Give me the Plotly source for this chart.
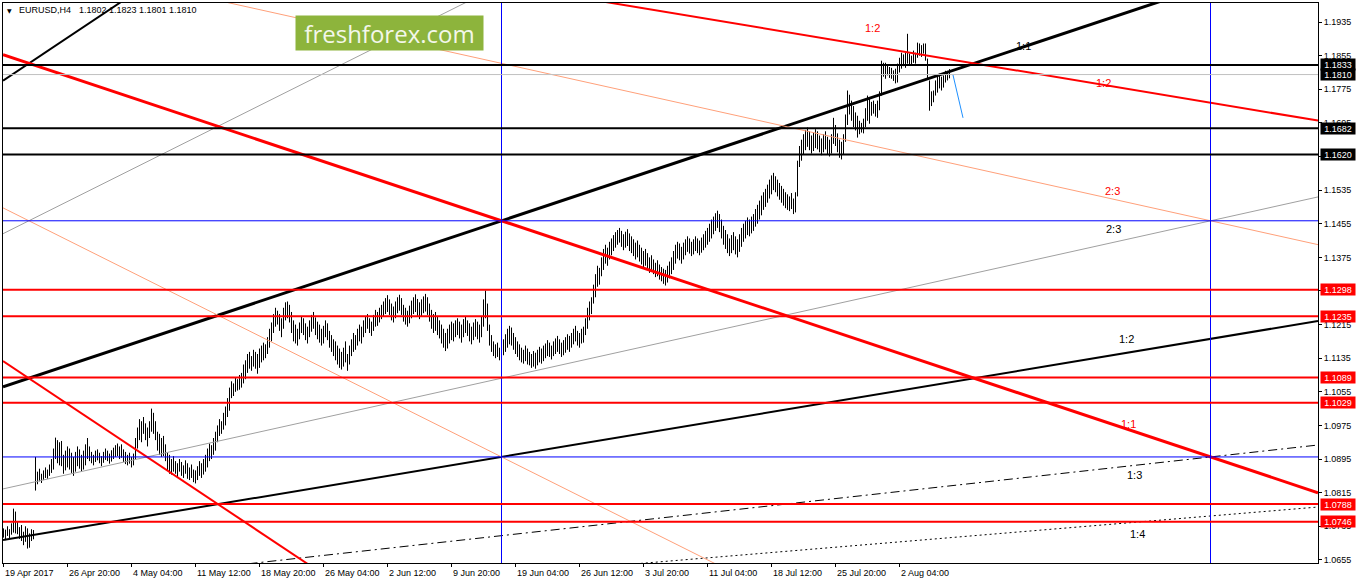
import plotly.graph_objects as go

# ------------------------------------------------------------------
# DATA
# ------------------------------------------------------------------
SYMBOL = "EURUSD,H4"
LAST_OHLC = ["1.1802", "1.1823", "1.1801", "1.1810"]

# H4 bar highs / lows, in pips above 1.0000 (e.g. 730 -> 1.0730), bar 0 = 19 Apr 2017 00:00
HIGH_PIPS = [
    730, 727, 735, 728, 742, 777, 770, 745, 733, 738,
    722, 735, 730, 718, 728, 726, 900, 865, 872, 860,
    868, 875, 870, 882, 895, 920, 946, 940, 935, 938,
    905, 915, 925, 920, 910, 900, 912, 925, 918, 905,
    915, 930, 945, 925, 912, 905, 915, 918, 910, 902,
    912, 920, 915, 908, 916, 922, 928, 932, 925, 930,
    918, 912, 905, 910, 900, 908, 945, 970, 990, 985,
    995, 980, 970, 985, 1015, 1005, 985, 960, 955, 945,
    950, 930, 910, 905, 895, 902, 890, 885, 895, 888,
    880, 892, 885, 875, 882, 870, 868, 878, 890, 885,
    895, 905, 920, 932, 928, 945, 960, 975, 990, 985,
    1005, 1020, 1040, 1065, 1080, 1075, 1090, 1085, 1095, 1100,
    1120, 1130, 1145, 1150, 1140, 1155, 1150, 1145, 1158, 1165,
    1172, 1168, 1185, 1205, 1220, 1240, 1255, 1248, 1240, 1230,
    1255, 1268, 1270, 1262, 1245, 1225, 1215, 1205, 1220, 1235,
    1230, 1218, 1210, 1225, 1238, 1245, 1232, 1222, 1215, 1205,
    1212, 1225, 1218, 1200, 1190, 1180, 1175, 1165, 1158, 1150,
    1160, 1175, 1145, 1165, 1180, 1195, 1190, 1205, 1215, 1210,
    1225, 1235, 1240, 1230, 1222, 1238, 1250, 1245, 1255, 1262,
    1270, 1278, 1285, 1275, 1265, 1258, 1270, 1280, 1286, 1278,
    1262, 1255, 1248, 1260, 1272, 1280, 1287, 1276, 1268, 1275,
    1282, 1288, 1280, 1265, 1250, 1240, 1245, 1235, 1225, 1215,
    1205, 1195, 1205, 1215, 1222, 1218, 1225, 1230, 1222, 1215,
    1228, 1235, 1225, 1218, 1210, 1220, 1228, 1222, 1215, 1235,
    1275, 1296, 1265, 1215, 1190, 1175, 1168, 1172, 1160, 1170,
    1180, 1192, 1205, 1212, 1208, 1195, 1185, 1175, 1168, 1160,
    1155, 1165, 1158, 1150, 1145, 1152, 1148, 1155, 1162, 1158,
    1165, 1170, 1178, 1172, 1165, 1175, 1182, 1188, 1180, 1172,
    1178, 1185, 1192, 1188, 1195, 1205, 1212, 1200, 1195, 1205,
    1210, 1230, 1255, 1270, 1280, 1310, 1335, 1355, 1350, 1375,
    1395, 1405, 1398, 1412, 1420, 1428, 1435, 1440, 1445, 1438,
    1430, 1436, 1442, 1432, 1425, 1418, 1410, 1415, 1405, 1398,
    1390, 1395, 1385, 1375, 1380, 1370, 1362, 1368, 1358, 1352,
    1348, 1345, 1355, 1365, 1375, 1390, 1405, 1412, 1408, 1400,
    1410, 1418, 1425, 1420, 1412, 1418, 1425, 1420, 1415, 1422,
    1430, 1438, 1445, 1455, 1465, 1472, 1480, 1486, 1478, 1465,
    1450, 1440, 1430, 1420, 1428, 1435, 1425, 1418, 1430, 1445,
    1455, 1462, 1470, 1465, 1472, 1478, 1490, 1500, 1510, 1522,
    1530, 1538, 1548, 1560, 1570, 1576, 1568, 1560, 1552, 1545,
    1538, 1530, 1525, 1520, 1528, 1515, 1530, 1605, 1640, 1655,
    1668, 1678, 1684, 1675, 1665, 1672, 1680, 1675, 1665, 1658,
    1668, 1675, 1662, 1655, 1668, 1707, 1690, 1670, 1655, 1650,
    1668, 1715, 1772, 1762, 1748, 1735, 1720, 1712, 1700, 1695,
    1705, 1730, 1760, 1752, 1745, 1748, 1740, 1748, 1770, 1843,
    1838, 1838, 1831, 1828, 1826, 1820, 1824, 1836, 1850, 1862,
    1858, 1862, 1907, 1860, 1855, 1867, 1862, 1886, 1884, 1880,
    1884, 1884, 1848, 1796, 1770, 1772, 1796, 1808, 1812, 1805,
    1808, 1819, 1819, 1823,
]
LOW_PIPS = [
    708, 702, 712, 705, 715, 720, 718, 716, 705, 700,
    690, 698, 682, 684, 700, 704, 820, 835, 842, 838,
    845, 850, 848, 855, 862, 870, 895, 885, 880, 878,
    860, 868, 875, 870, 862, 855, 865, 878, 872, 865,
    870, 880, 895, 890, 885, 880, 888, 892, 885, 878,
    886, 893, 890, 884, 889, 895, 900, 902, 895, 898,
    888, 883, 880, 884, 875, 880, 895, 920, 940, 935,
    955, 940, 925, 945, 960, 955, 940, 915, 905, 900,
    902, 890, 868, 860, 858, 865, 860, 852, 865, 855,
    850, 860, 848, 845, 850, 840, 837, 845, 855, 850,
    858, 865, 875, 890, 895, 905, 915, 935, 950, 955,
    965, 975, 995, 1010, 1040, 1045, 1055, 1058, 1060, 1065,
    1075, 1085, 1100, 1110, 1105, 1115, 1110, 1098, 1112, 1125,
    1130, 1135, 1145, 1160, 1175, 1195, 1210, 1215, 1200, 1185,
    1205, 1225, 1230, 1220, 1195, 1175, 1170, 1165, 1180, 1195,
    1190, 1178, 1170, 1185, 1198, 1205, 1190, 1180, 1172, 1165,
    1170, 1185, 1178, 1160, 1150, 1140, 1130, 1120, 1112, 1108,
    1115, 1125, 1105, 1120, 1140, 1150, 1155, 1165, 1175, 1170,
    1185, 1195, 1205, 1195, 1188, 1200, 1210, 1212, 1220, 1228,
    1235, 1240, 1245, 1238, 1225, 1220, 1230, 1242, 1248, 1238,
    1222, 1215, 1210, 1218, 1230, 1240, 1245, 1236, 1228, 1235,
    1242, 1246, 1238, 1222, 1205, 1195, 1200, 1190, 1182, 1170,
    1160, 1152, 1158, 1170, 1178, 1175, 1185, 1190, 1182, 1172,
    1185, 1195, 1188, 1175, 1168, 1178, 1186, 1180, 1172, 1185,
    1210, 1230, 1200, 1165, 1150, 1140, 1135, 1138, 1130, 1135,
    1142, 1150, 1160, 1168, 1165, 1155, 1145, 1138, 1130, 1125,
    1122, 1128, 1120, 1118, 1112, 1115, 1110, 1118, 1125, 1122,
    1128, 1135, 1140, 1138, 1132, 1140, 1145, 1150, 1145, 1138,
    1142, 1148, 1155, 1150, 1160, 1168, 1175, 1165, 1160, 1170,
    1172, 1190, 1205, 1225, 1240, 1265, 1280, 1305, 1310, 1330,
    1345, 1360, 1355, 1370, 1380, 1390, 1398, 1405, 1410, 1400,
    1392, 1398, 1402, 1390, 1385, 1378, 1370, 1375, 1365, 1358,
    1352, 1355, 1345, 1338, 1342, 1335, 1328, 1330, 1322, 1318,
    1312, 1308, 1315, 1325, 1335, 1345, 1360, 1372, 1368, 1360,
    1370, 1380, 1388, 1384, 1378, 1382, 1390, 1385, 1380, 1386,
    1392, 1398, 1405, 1412, 1420, 1430, 1438, 1445, 1435, 1420,
    1405, 1395, 1385, 1378, 1385, 1392, 1382, 1375, 1388, 1400,
    1412, 1420, 1428, 1425, 1432, 1438, 1448, 1455, 1465, 1475,
    1488, 1495, 1505, 1515, 1525, 1535, 1530, 1520, 1512, 1505,
    1498, 1492, 1488, 1485, 1490, 1478, 1482, 1520, 1590, 1605,
    1620, 1630, 1638, 1630, 1622, 1628, 1635, 1632, 1625, 1618,
    1625, 1632, 1620, 1615, 1622, 1645, 1640, 1625, 1612, 1608,
    1620, 1650, 1690, 1715, 1700, 1685, 1677, 1660, 1668, 1672,
    1670, 1685, 1700, 1693, 1712, 1717, 1710, 1707, 1725, 1760,
    1805, 1800, 1808, 1802, 1800, 1795, 1789, 1791, 1815, 1824,
    1830, 1826, 1836, 1831, 1835, 1838, 1836, 1850, 1855, 1852,
    1860, 1843, 1800, 1724, 1735, 1744, 1760, 1767, 1777, 1772,
    1779, 1791, 1796, 1801,
]

X_TICK_BARS = [0, 32, 64, 96, 128, 160, 192, 224, 256, 288, 320, 352, 384, 416, 448]
X_TICK_LABELS = ["19 Apr 2017", "26 Apr 20:00", "4 May 04:00", "11 May 12:00",
                 "18 May 20:00", "26 May 04:00", "2 Jun 12:00", "9 Jun 20:00",
                 "19 Jun 04:00", "26 Jun 12:00", "3 Jul 20:00", "11 Jul 04:00",
                 "18 Jul 12:00", "25 Jul 20:00", "2 Aug 04:00"]
Y_TICKS = [1.0655, 1.0735, 1.0815, 1.0895, 1.0975, 1.1055, 1.1135, 1.1215, 1.1295,
           1.1375, 1.1455, 1.1535, 1.1615, 1.1695, 1.1775, 1.1855, 1.1935]
Y_TICK_LABELS = ["1.0655", "1.0735", "1.0815", "1.0895", "1.0975", "1.1055", "1.1135",
                 "1.1215", "1.1295", "1.1375", "1.1455", "1.1535", "1.1615", "1.1695",
                 "1.1775", "1.1855", "1.1935"]

LEVELS_BLACK = [1.1833, 1.1682, 1.1620]
BID_LEVEL = 1.1810
LEVELS_RED = [1.1298, 1.1235, 1.1089, 1.1029, 1.0788, 1.0746]
BLUE_HLINES = [1.1462, 1.0900]
BLUE_VLINES = [249, 603.5]

# Gann-style fans: origin (bar index, price), 1:1 slope in price per bar
GANN_UNIT = 0.00015853
RED_FAN_ORIGIN = (-460, 1.2586)
BLACK_FAN_ORIGIN = (-460, 1.0338)
RED_FAN_RATIOS = [2.0, 1.5, 1.0, 2 / 3, 0.5]
BLACK_FAN_RATIOS = [2.0, 1.5, 1.0, 2 / 3, 0.5, 1 / 3, 0.25]

FAN_LABEL_TEXT = ["1:2", "1:1", "1:2", "2:3", "2:3", "1:2", "1:1", "1:3", "1:4"]
FAN_LABEL_BAR = [434.25, 509.75, 549.75, 554.25, 554.75, 561.25, 562.25, 565.25, 566.75]
FAN_LABEL_PRICE = [1.19208, 1.18780, 1.17899, 1.15329, 1.14425, 1.11807, 1.09784, 1.08570, 1.07166]
FAN_LABEL_COLOR = ["red", "black", "red", "red", "black", "black", "red", "black", "black"]

FORECAST_BARS = [474.75, 479.75]
FORECAST_PRICES = [1.1809, 1.1707]

# ------------------------------------------------------------------
# LAYOUT GEOMETRY / STYLE
# ------------------------------------------------------------------
W, H = 1358, 584
ML, MR, MT, MB = 3, 40, 3, 21
PW, PH = W - ML - MR, H - MT - MB
X_RANGE = [-0.25, -0.25 + PW / 2.0]
Y_RANGE = [1.06476, 1.19803]
FONT = "Liberation Sans, Arial, sans-serif"


def px_x(px):
    return (px - ML) / PW


def px_y(py):
    return (H - MB - py) / PH


def price(v):
    return 1.0 + v / 10000.0


fig = go.Figure()

# bars (high-low vertical strokes)
bx, by = [], []
for i, (hv, lv) in enumerate(zip(HIGH_PIPS, LOW_PIPS)):
    bx += [i, i, None]
    by += [price(lv), price(hv), None]
fig.add_trace(go.Scatter(x=bx, y=by, mode="lines", line=dict(color="black", width=1),
                         hoverinfo="skip", showlegend=False))

# fan lines
RED_STYLE = {2.0: ("#FF0000", 2, "solid"), 1.5: ("#FFA07A", 1, "solid"), 1.0: ("#FF0000", 3, "solid"),
             2 / 3: ("#FFA07A", 1, "solid"), 0.5: ("#FF0000", 2, "solid")}
BLACK_STYLE = {2.0: ("#000000", 2, "solid"), 1.5: ("#A0A0A0", 1, "solid"), 1.0: ("#000000", 3, "solid"),
               2 / 3: ("#A0A0A0", 1, "solid"), 0.5: ("#000000", 2, "solid"),
               1 / 3: ("#000000", 1, "9px,4px,2px,4px"), 0.25: ("#000000", 1, "2px,3px")}


def fan(origin, ratios, sign, styles):
    i0, p0 = origin
    for r in ratios:
        c, w, d = styles[r]
        xs = list(X_RANGE)
        ys = [p0 + sign * r * GANN_UNIT * (x - i0) for x in xs]
        fig.add_trace(go.Scatter(x=xs, y=ys, mode="lines", line=dict(color=c, width=w, dash=d),
                                 hoverinfo="skip", showlegend=False))


fan(BLACK_FAN_ORIGIN, BLACK_FAN_RATIOS, +1, BLACK_STYLE)
fan(RED_FAN_ORIGIN, RED_FAN_RATIOS, -1, RED_STYLE)

# forecast stroke
fig.add_trace(go.Scatter(x=FORECAST_BARS, y=FORECAST_PRICES, mode="lines",
                         line=dict(color="#1E90FF", width=1), hoverinfo="skip", showlegend=False))

shapes = []
for lv in BLUE_HLINES:
    shapes.append(dict(type="line", xref="paper", x0=0, x1=1, yref="y", y0=lv, y1=lv,
                       line=dict(color="#0000FF", width=1)))
for bv in BLUE_VLINES:
    shapes.append(dict(type="line", xref="x", x0=bv, x1=bv, yref="paper", y0=0, y1=1,
                       line=dict(color="#0000FF", width=1)))
shapes.append(dict(type="line", xref="paper", x0=0, x1=1, yref="y", y0=BID_LEVEL, y1=BID_LEVEL,
                   line=dict(color="#C0C0C0", width=1)))
for lv in LEVELS_BLACK:
    shapes.append(dict(type="line", xref="paper", x0=0, x1=1, yref="y", y0=lv, y1=lv,
                       line=dict(color="#000000", width=2)))
for lv in LEVELS_RED:
    shapes.append(dict(type="line", xref="paper", x0=0, x1=1, yref="y", y0=lv, y1=lv,
                       line=dict(color="#FF0000", width=2)))

ann = []
# x-axis labels (left aligned at tick, MT4 style)
for b, t in zip(X_TICK_BARS, X_TICK_LABELS):
    ann.append(dict(x=b, xref="x", y=0, yref="paper", text=t, showarrow=False,
                    xanchor="left", yanchor="top", xshift=-0.5, yshift=-3,
                    font=dict(family=FONT, size=9, color="black")))
# price boxes on right axis
for lv in [BID_LEVEL] + LEVELS_BLACK:
    ann.append(dict(x=1, xref="paper", y=lv, yref="y", text=f"{lv:.4f}", showarrow=False,
                    xanchor="left", yanchor="middle", xshift=2, width=34, height=11,
                    bgcolor="#000000", borderpad=0, font=dict(family=FONT, size=9, color="white")))
for lv in LEVELS_RED:
    ann.append(dict(x=1, xref="paper", y=lv, yref="y", text=f"{lv:.4f}", showarrow=False,
                    xanchor="left", yanchor="middle", xshift=2, width=34, height=11,
                    bgcolor="#FF0000", borderpad=0, font=dict(family=FONT, size=9, color="white")))
# fan labels
for t, b, p, c in zip(FAN_LABEL_TEXT, FAN_LABEL_BAR, FAN_LABEL_PRICE, FAN_LABEL_COLOR):
    ann.append(dict(x=b, xref="x", y=p, yref="y", text=t, showarrow=False,
                    font=dict(family=FONT, size=11, color=c)))
# header
ann.append(dict(x=px_x(9.5), xref="paper", y=px_y(10.8), yref="paper", text="▼", showarrow=False,
                xanchor="center", yanchor="middle", font=dict(family="DejaVu Sans", size=6, color="black")))
ann.append(dict(x=px_x(17), xref="paper", y=px_y(10.5), yref="paper", text=SYMBOL, showarrow=False,
                xanchor="left", yanchor="middle", font=dict(family=FONT, size=9, color="black")))
ann.append(dict(x=px_x(77), xref="paper", y=px_y(10.5), yref="paper", text=" ".join(LAST_OHLC),
                showarrow=False, xanchor="left", yanchor="middle",
                font=dict(family=FONT, size=9, color="black")))
# logo
ann.append(dict(x=px_x(295), xref="paper", y=px_y(15), yref="paper", text="freshforex.com",
                showarrow=False, xanchor="left", yanchor="top", width=187, height=34,
                bgcolor="#8DB43C", borderpad=0, font=dict(family="Open Sans", size=24, color="#F3F7EA")))

fig.update_layout(
    width=W, height=H, margin=dict(l=ML, r=MR, t=MT, b=MB, pad=0),
    paper_bgcolor="white", plot_bgcolor="white", showlegend=False,
    shapes=shapes, annotations=ann,
    xaxis=dict(range=X_RANGE, showgrid=False, zeroline=False, showline=True, linecolor="black",
               linewidth=1, mirror=True, ticks="outside", ticklen=3, tickcolor="black",
               tickvals=X_TICK_BARS, showticklabels=False, fixedrange=True),
    yaxis=dict(range=Y_RANGE, side="right", showgrid=False, zeroline=False, showline=True,
               linecolor="black", linewidth=1, mirror=True, ticks="outside", ticklen=3,
               tickcolor="black", tickvals=Y_TICKS, ticktext=Y_TICK_LABELS,
               tickfont=dict(family=FONT, size=9, color="black"), fixedrange=True),
)

fig.write_html("out.html", config={"displayModeBar": False},
               post_script="document.body.style.margin='0';document.body.style.overflow='hidden';")
